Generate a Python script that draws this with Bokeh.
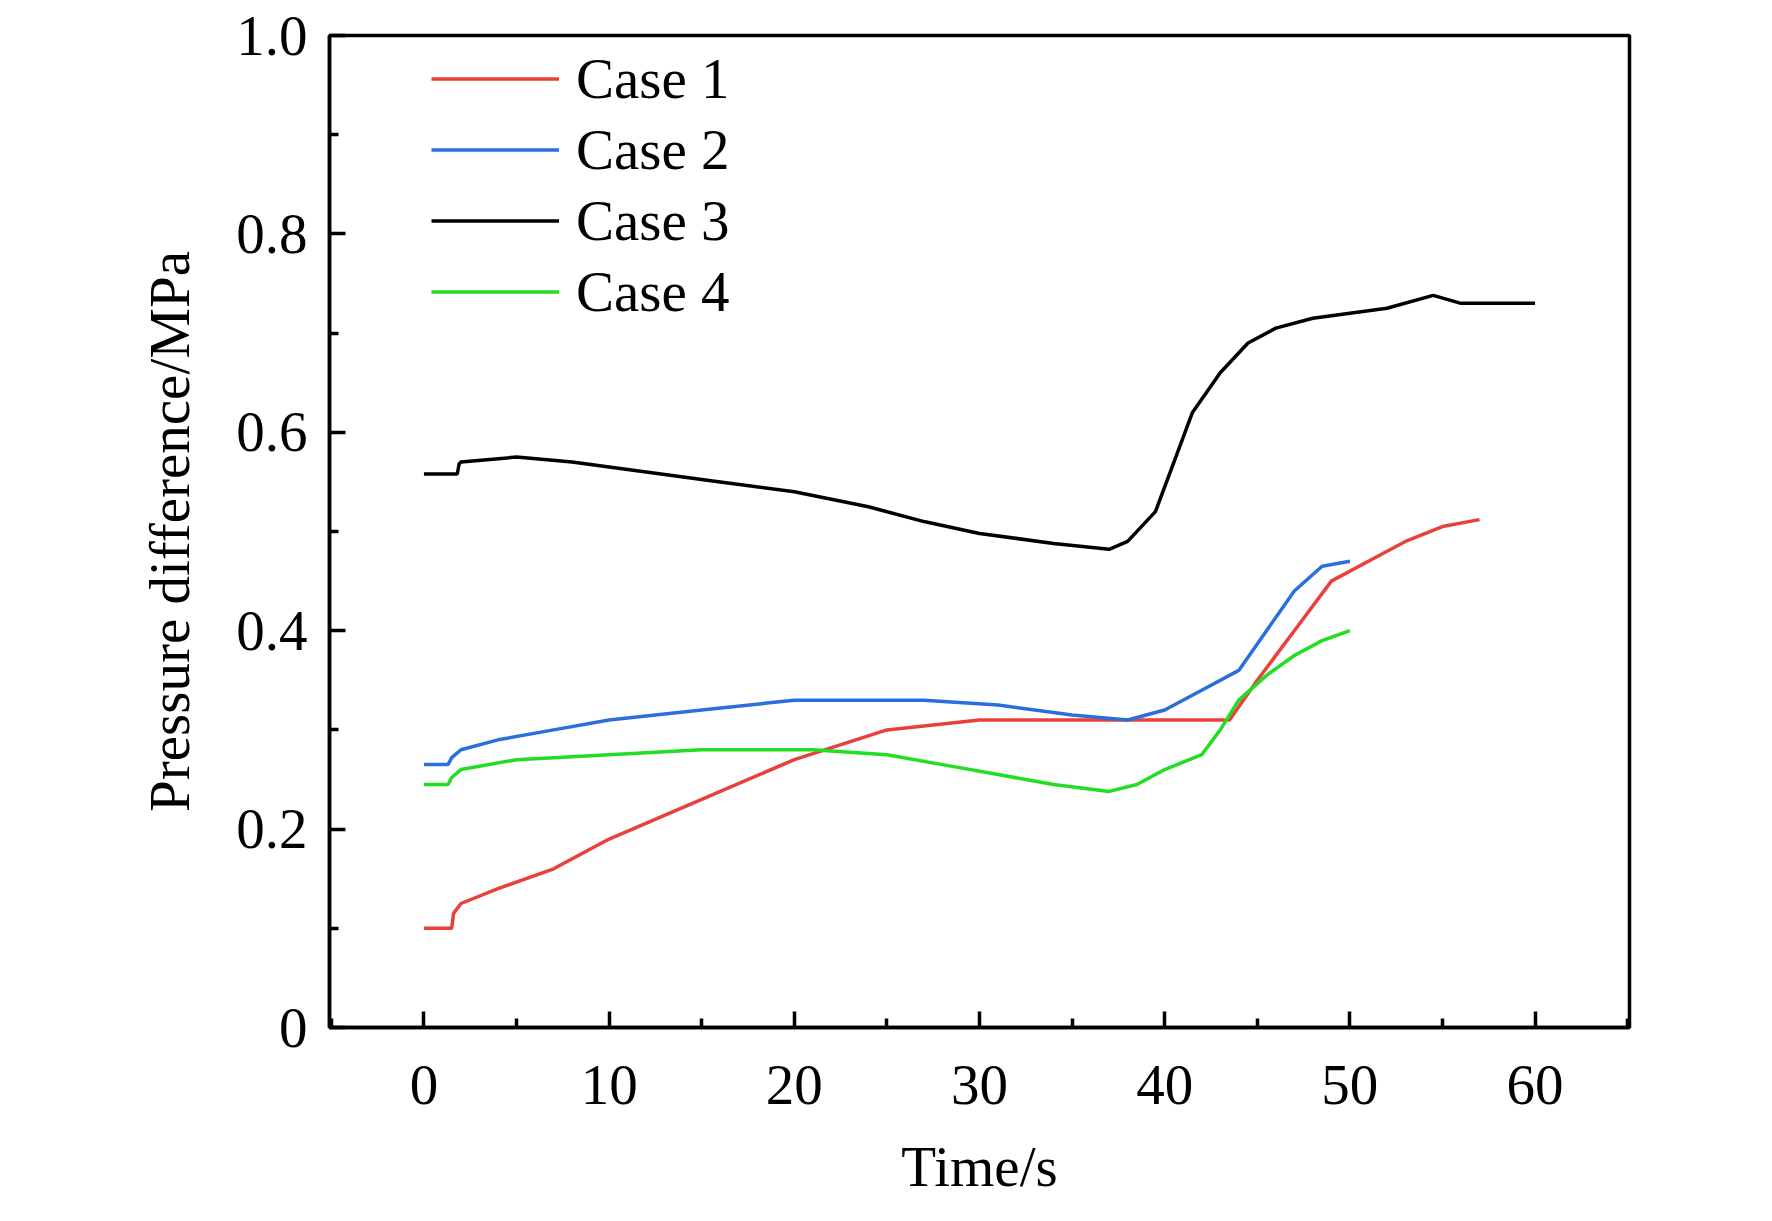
from bokeh.plotting import figure
from bokeh.models import Range1d, Legend, LegendItem, FixedTicker
from bokeh.embed import file_html
from bokeh.resources import INLINE

t1 = [0, 1.5, 1.6, 2, 4, 7, 10, 15, 20, 25, 30, 35, 40, 43.5, 45, 47, 49, 51, 53, 55, 57]
p1 = [0.10, 0.10, 0.115, 0.125, 0.14, 0.16, 0.19, 0.23, 0.27, 0.30, 0.31, 0.31, 0.31, 0.31, 0.35, 0.40, 0.45, 0.47, 0.49, 0.505, 0.512]
t2 = [0, 1.3, 1.5, 2, 4, 7, 10, 15, 20, 27, 31, 35, 38, 40, 42, 44, 45.5, 47, 48.5, 50]
p2 = [0.265, 0.265, 0.272, 0.28, 0.29, 0.30, 0.31, 0.32, 0.33, 0.33, 0.325, 0.315, 0.31, 0.32, 0.34, 0.36, 0.40, 0.44, 0.465, 0.47]
t3 = [0, 1.8, 1.9, 2, 5, 8, 12, 16, 20, 24, 27, 30, 34, 37, 38, 39.5, 40.5, 41.5, 43, 44.5, 46, 48, 50, 52, 54.5, 56, 60]
p3 = [0.558, 0.558, 0.568, 0.57, 0.575, 0.57, 0.56, 0.55, 0.54, 0.525, 0.51, 0.498, 0.488, 0.482, 0.49, 0.52, 0.57, 0.62, 0.66, 0.69, 0.705, 0.715, 0.72, 0.725, 0.738, 0.73, 0.73]
t4 = [0, 1.3, 1.5, 2, 5, 10, 15, 21, 25, 28, 31, 34, 37, 38.5, 40, 42, 43, 44, 45.5, 47, 48.5, 50]
p4 = [0.245, 0.245, 0.252, 0.26, 0.27, 0.275, 0.28, 0.28, 0.275, 0.265, 0.255, 0.245, 0.238, 0.245, 0.26, 0.275, 0.30, 0.33, 0.355, 0.375, 0.39, 0.40]

names = ["Case 1", "Case 2", "Case 3", "Case 4"]
colors = ["#e8413c", "#2a6fdb", "#000000", "#22dd22"]
series = [(t1, p1), (t2, p2), (t3, p3), (t4, p4)]
xticks = [0, 10, 20, 30, 40, 50, 60]
xminor = [-5, 5, 15, 25, 35, 45, 55, 65]
yticks = [0, 0.2, 0.4, 0.6, 0.8, 1.0]
yminor = [0.1, 0.3, 0.5, 0.7, 0.9]

FONT = "Liberation Serif"
p = figure(width=1756, height=1200, output_backend="svg", toolbar_location=None,
           x_range=Range1d(-5.1, 65.1), y_range=Range1d(0, 1.0),
           min_border_left=329, min_border_right=127, min_border_top=35, min_border_bottom=156)
p.grid.visible = False
p.outline_line_color = "black"
p.outline_line_width = 3.5

items = []
for (t, v), n, c in zip(series, names, colors):
    r = p.line(t, v, line_color=c, line_width=3.5)
    items.append(LegendItem(label=n, renderers=[r]))

p.xaxis[0].ticker = FixedTicker(ticks=xticks, minor_ticks=xminor)
p.yaxis[0].ticker = FixedTicker(ticks=yticks, minor_ticks=yminor)

for ax in (p.xaxis[0], p.yaxis[0]):
    ax.axis_line_width = 3.5
    ax.major_tick_line_width = 3.5
    ax.minor_tick_line_width = 3.5
    ax.major_tick_line_color = "black"
    ax.minor_tick_line_color = "black"
    ax.major_tick_in = 16
    ax.major_tick_out = 0
    ax.minor_tick_in = 9
    ax.minor_tick_out = 0
    ax.major_label_text_font = FONT
    ax.major_label_text_font_size = "57px"
    ax.major_label_text_color = "black"
    ax.axis_label_text_font = FONT
    ax.axis_label_text_font_size = "57px"
    ax.axis_label_text_font_style = "normal"
    ax.axis_label_text_color = "black"

p.yaxis.major_label_overrides = {0: "0", 1.0: "1.0"}
p.xaxis.axis_label = "Time/s"
p.yaxis.axis_label = "Pressure difference/MPa"
p.xaxis.major_label_standoff = 38
p.xaxis.axis_label_standoff = 28
p.yaxis.major_label_standoff = 22
p.yaxis.axis_label_standoff = 32

leg = Legend(items=items, location=(102, 700), label_text_font=FONT, label_text_font_size="57px",
             label_text_color="black",
             label_height=71, glyph_height=71, glyph_width=128, label_standoff=17,
             spacing=0, padding=0, margin=0, border_line_color=None, background_fill_alpha=0)
p.add_layout(leg, "center")

open("out.html", "w").write(file_html(p, INLINE))
